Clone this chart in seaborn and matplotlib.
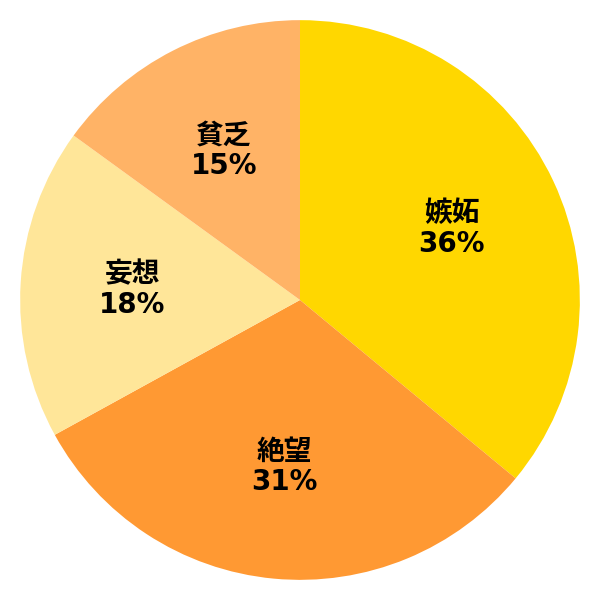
import matplotlib
matplotlib.use('Agg')
import matplotlib.pyplot as plt
import numpy as np
import seaborn as sns

labels = ['嫉妬', '絶望', '妄想', '貧乏']
values = [36, 31, 18, 15]
colors = ['#FFD700', '#FF9933', '#FFE699', '#FFB366']

sns.set_theme(style="white")
plt.rcParams['font.family'] = ['Noto Sans CJK JP', 'DejaVu Sans']

fig, ax = plt.subplots(figsize=(6, 6), dpi=100)
fig.subplots_adjust(left=0, right=1, bottom=0, top=1)

wedges, _ = ax.pie(values, colors=colors, startangle=90, counterclock=False,
                   radius=1.0, wedgeprops=dict(linewidth=0))

total = sum(values)
for w, lab, v in zip(wedges, labels, values):
    mid = np.deg2rad((w.theta1 + w.theta2) / 2)
    x, y = 0.6 * np.cos(mid), 0.6 * np.sin(mid)
    ax.text(x, y, f"{lab}\n{round(100 * v / total)}%", ha='center', va='center',
            fontsize=20, fontweight='bold', color='black', linespacing=1.12,
            family=['DejaVu Sans', 'Noto Sans CJK JP'])

ax.set_xlim(-1.072, 1.072)
ax.set_ylim(-1.072, 1.072)
ax.set_aspect('equal')
ax.axis('off')

plt.savefig("out.png", dpi=100)
plt.close()
